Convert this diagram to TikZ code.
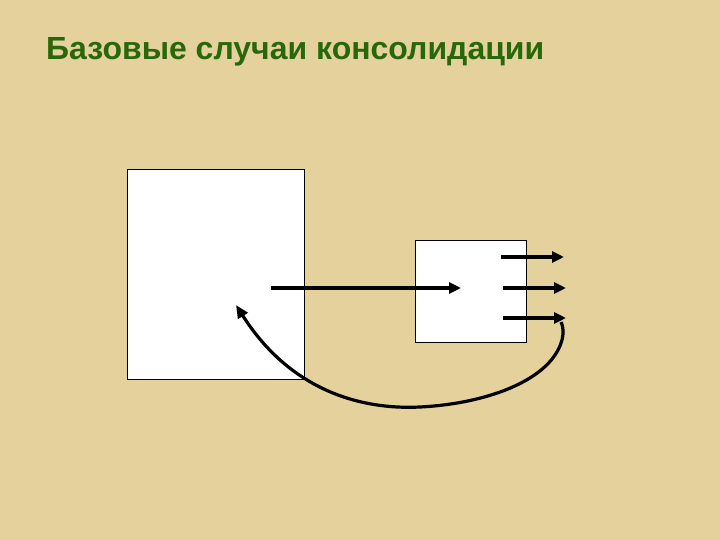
\documentclass[tikz,border=0pt]{standalone}
\usepackage{fontspec}
\setmainfont{Liberation Sans}
\usetikzlibrary{arrows.meta}
\definecolor{bg}{RGB}{229,209,156}
\definecolor{ttl}{RGB}{40,104,10}
\begin{document}
\begin{tikzpicture}[x=1pt,y=-1pt,
  box/.style={draw=black,line width=1pt,fill=white,anchor=north west,inner sep=0pt},
  arr/.style={line width=4pt,-{Triangle[length=12pt,width=11pt]}},
  carr/.style={line width=3.2pt,{Triangle[length=13pt,width=11pt]}-}]
\fill[bg] (0,0) rectangle (720,540);
\useasboundingbox (0,0) rectangle (720,540);
\node[anchor=base west,inner sep=0pt,text=ttl,font=\bfseries\fontsize{32}{38}\selectfont] (title) at (46,60) {Базовые случаи консолидации};
\node[box,minimum width=177pt,minimum height=210pt] (big) at (127,169) {};
\node[box,minimum width=111pt,minimum height=102pt] (small) at (415,240) {};
\coordinate (a1s) at (271,288); \coordinate (a1e) at (461,288);
\coordinate (r1s) at (501,257); \coordinate (r1e) at (564,257);
\coordinate (r2s) at (503,288); \coordinate (r2e) at (566,288);
\coordinate (r3s) at (503,318); \coordinate (r3e) at (566,318);
\coordinate (cs) at (561,322); \coordinate (ce) at (236,305);
\draw[arr] (a1s) -- (a1e);
\draw[arr] (r1s) -- (r1e);
\draw[arr] (r2s) -- (r2e);
\draw[arr] (r3s) -- (r3e);
\draw[carr] (ce) .. controls (290,390) and (360,410) .. (420,407)
  .. controls (480,404) and (535,385) .. (555,355)
  .. controls (565,340) and (564,328) .. (cs);
\end{tikzpicture}
\end{document}
